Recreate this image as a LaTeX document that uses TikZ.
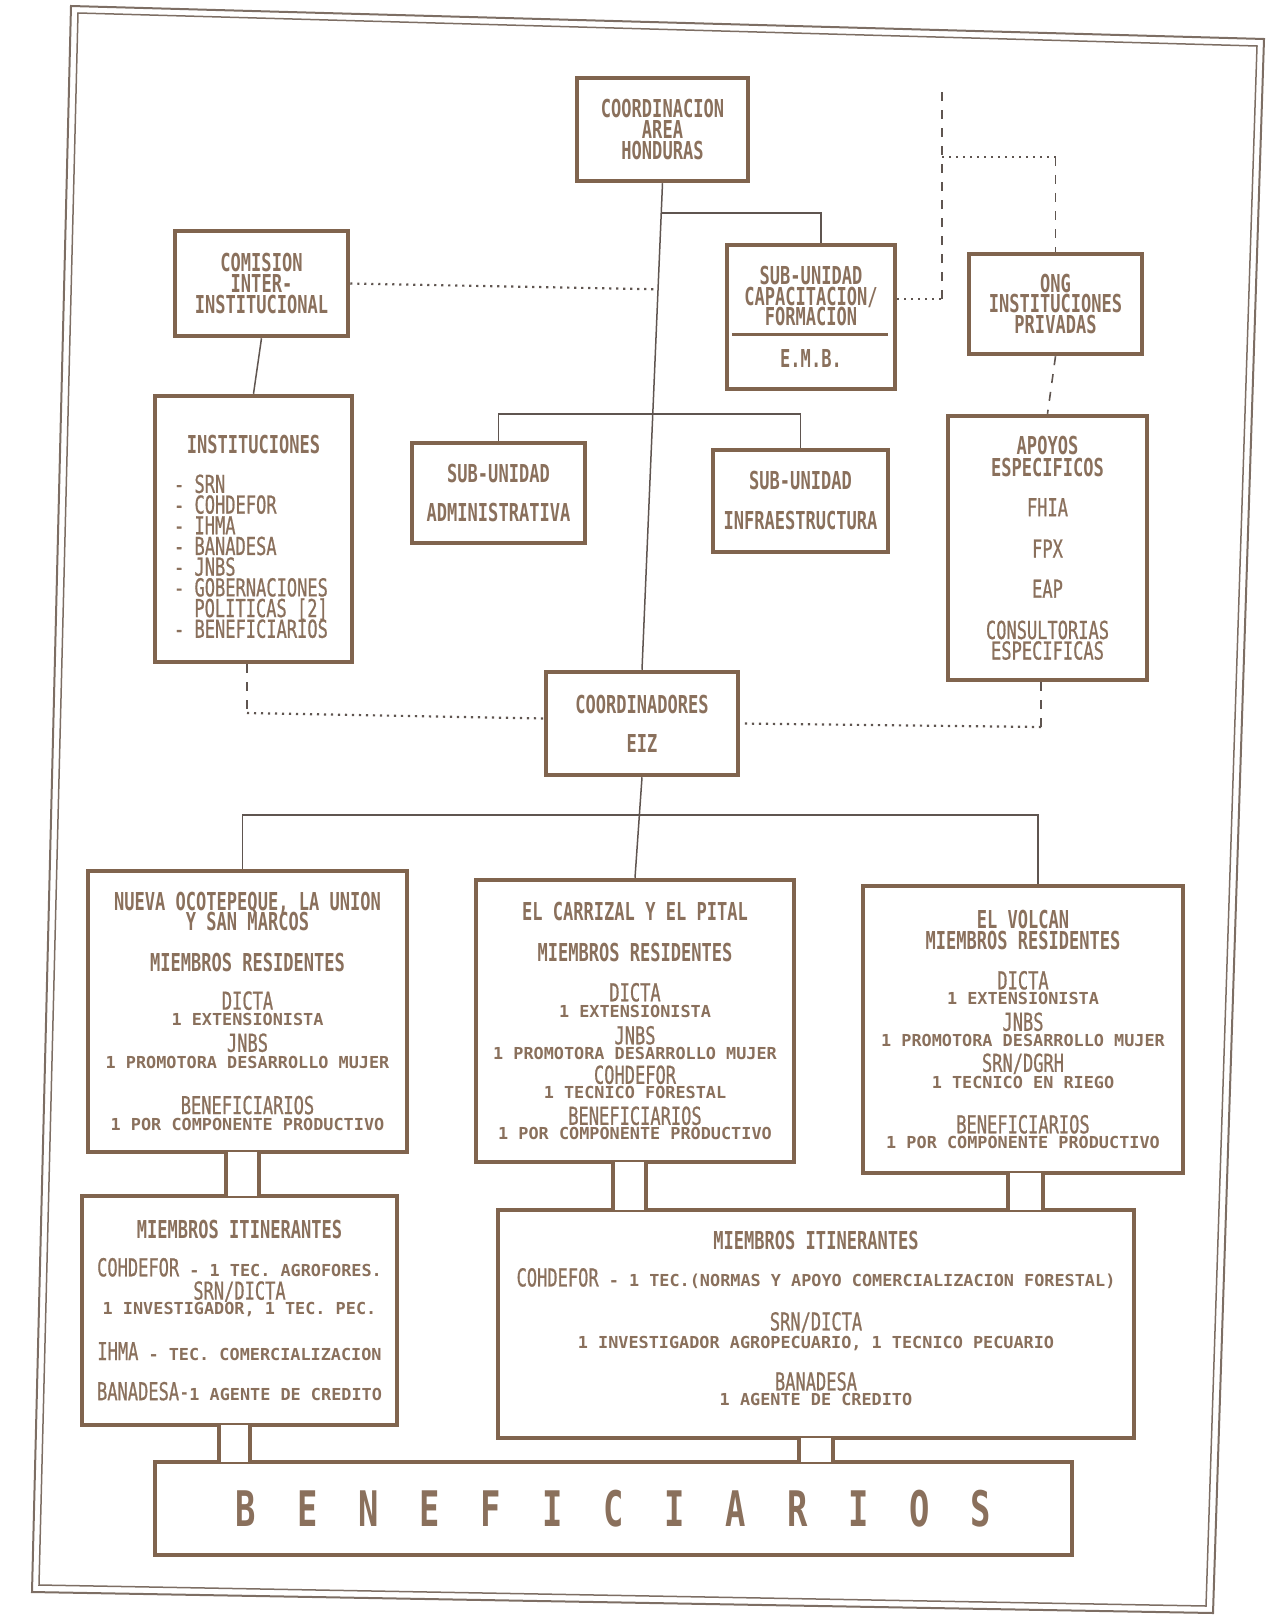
\documentclass[tikz,border=0pt]{standalone}
\usepackage{fontspec}
\usetikzlibrary{calc}
\newfontfamily\monoN{DejaVu Sans Mono}[FakeStretch=0.69]
\newfontfamily\monoM{DejaVu Sans Mono}[FakeStretch=0.69, FakeBold=0.7]
\newfontfamily\monoS{DejaVu Sans Mono}[FakeStretch=1.02]
\newcommand\fH{\monoN\bfseries\fontsize{24.7pt}{0pt}\selectfont}
\newcommand\fM{\monoM\mdseries\fontsize{24.7pt}{0pt}\selectfont}
\newcommand\fS{\monoS\bfseries\fontsize{16.5pt}{0pt}\selectfont}
\newcommand\fBig{\monoN\bfseries\fontsize{49pt}{0pt}\selectfont}
\newcommand\bl[1]{\makebox[61.25pt]{#1}}
\newcommand\li[1]{\makebox[159pt][l]{#1}}
\definecolor{brownT}{RGB}{138,112,92}
\definecolor{brownB}{RGB}{128,100,78}
\definecolor{lineC}{RGB}{95,85,80}
\definecolor{frameC}{RGB}{125,110,100}
\lineskiplimit=-1000pt
\newcommand\chan[4]{%
  \coordinate (cxa) at (#3,0);
  \coordinate (cxb) at (#4,0);
  \path (#1.south -| cxa) coordinate (cA) (#2.north -| cxb) coordinate (cB);
  \fill[white] ($(cA)+(2.25,-2.6)$) rectangle ($(cB)+(-2.25,2.6)$);
  \draw[boxline, line cap=rect] (cA) -- (cA |- cB) (cB |- cA) -- (cB);
}
\begin{document}
\begin{tikzpicture}[x=1pt,y=-1pt,
  boxline/.style={draw=brownB, line width=4.5pt},
  orgbox/.style={boxline, fill=white, inner sep=0pt, align=center, text=brownT, font=\fH},
  connln/.style={draw=lineC, line width=1.5pt},
  dotln/.style={draw=lineC, line width=2.2pt, dash pattern=on 2.2pt off 4.8pt},
  dashln/.style={draw=lineC, line width=1.6pt, dash pattern=on 9pt off 9pt},
  frameln/.style={draw=frameC, line width=2pt}]
\useasboundingbox (0,0) rectangle (1271,1616);
% frame
\draw[frameln] (71,6) -- (1264,39) -- (1213,1613) -- (32,1592) -- cycle;
\draw[frameln, line width=1.5pt] (78,13) -- (1257,46) -- (1206,1606) -- (39,1585) -- cycle;

% boxes
\node[orgbox, minimum width=171pt, minimum height=103pt] (b1) at (662.5,129.5)
  {\fH COORDINACION\\[20.6pt]\fH AREA\\[20.6pt]\fH HONDURAS};
\node[orgbox, minimum width=173pt, minimum height=105pt] (b2) at (261.5,283.5)
  {\fH COMISION\\[21pt]\fH INTER-\\[21pt]\fH INSTITUCIONAL};
\node[orgbox, minimum width=168pt, minimum height=144pt] (b3) at (811,317)
  {\fH SUB-UNIDAD\\[20.6pt]\fH CAPACITACION/\\[20.6pt]\fH FORMACION\\[42.3pt]\fH E.M.B.};
\node[orgbox, minimum width=173pt, minimum height=100pt] (b4) at (1055.5,304)
  {\fH ONG\\[20.6pt]\fH INSTITUCIONES\\[20.6pt]\fH PRIVADAS};
\node[orgbox, minimum width=197pt, minimum height=266pt] (b5) at (253.5,529)
  {\rule{0pt}{34pt}\fH INSTITUCIONES\\[39pt]
   \fM\li{- SRN}\\[20.7pt]
   \fM\li{- COHDEFOR}\\[20.7pt]
   \fM\li{- IHMA}\\[20.7pt]
   \fM\li{- BANADESA}\\[20.7pt]
   \fM\li{- JNBS}\\[20.7pt]
   \fM\li{- GOBERNACIONES}\\[20.7pt]
   \fM\li{\hspace*{20.4pt}POLITICAS [2]}\\[20.7pt]
   \fM\li{- BENEFICIARIOS}};
\node[orgbox, minimum width=173pt, minimum height=100pt] (b6) at (498.5,493)
  {\fH SUB-UNIDAD\\[39.3pt]\fH ADMINISTRATIVA};
\node[orgbox, minimum width=175pt, minimum height=102pt] (b7) at (800.5,501)
  {\fH SUB-UNIDAD\\[40pt]\fH INFRAESTRUCTURA};
\node[orgbox, minimum width=199pt, minimum height=264pt] (b8) at (1047.5,548)
  {\fH APOYOS\\[21.6pt]\fH ESPECIFICOS\\[40.2pt]\fM FHIA\\[41.3pt]\fM FPX\\[40.2pt]\fM EAP\\[41.2pt]\fM CONSULTORIAS\\[20.6pt]\fM ESPECIFICAS};
\node[orgbox, minimum width=192pt, minimum height=103pt] (b9) at (642,723.5)
  {\fH COORDINADORES\\[39pt]\fH EIZ};
\node[orgbox, minimum width=319pt, minimum height=281pt] (b10) at (247.5,1011.5)
  {\fH NUEVA OCOTEPEQUE, LA UNION\\[19.5pt]
   \fH Y SAN MARCOS\\[41pt]
   \fH MIEMBROS RESIDENTES\\[38.5pt]
   \fM DICTA\\[16.3pt]
   \fS 1 EXTENSIONISTA\\[25.8pt]
   \fM JNBS\\[16.8pt]
   \fS 1 PROMOTORA DESARROLLO MUJER\\[45.6pt]
   \fM BENEFICIARIOS\\[16.3pt]
   \fS 1 POR COMPONENTE PRODUCTIVO};
\node[orgbox, minimum width=318pt, minimum height=282pt] (b11) at (635,1021)
  {\fH EL CARRIZAL Y EL PITAL\\[41pt]
   \fH MIEMBROS RESIDENTES\\[40pt]
   \fM DICTA\\[16pt]
   \fS 1 EXTENSIONISTA\\[27pt]
   \fM JNBS\\[15pt]
   \fS 1 PROMOTORA DESARROLLO MUJER\\[24.5pt]
   \fM COHDEFOR\\[15pt]
   \fS 1 TECNICO FORESTAL\\[26pt]
   \fM BENEFICIARIOS\\[15pt]
   \fS 1 POR COMPONENTE PRODUCTIVO};
\node[orgbox, minimum width=320pt, minimum height=287pt] (b12) at (1023,1029.5)
  {\fH EL VOLCAN\\[21pt]
   \fH MIEMBROS RESIDENTES\\[40pt]
   \fM DICTA\\[15.5pt]
   \fS 1 EXTENSIONISTA\\[26pt]
   \fM JNBS\\[16pt]
   \fS 1 PROMOTORA DESARROLLO MUJER\\[25pt]
   \fM SRN/DGRH\\[16.5pt]
   \fS 1 TECNICO EN RIEGO\\[45pt]
   \fM BENEFICIARIOS\\[15.5pt]
   \fS 1 POR COMPONENTE PRODUCTIVO};
\node[orgbox, minimum width=315pt, minimum height=229pt] (b13) at (239.5,1310.5)
  {\fH MIEMBROS ITINERANTES\\[37.5pt]
   \fM COHDEFOR\fS\ - 1 TEC. AGROFORES.\\[23.3pt]
   \fM SRN/DICTA\\[14.8pt]
   \fS 1 INVESTIGADOR, 1 TEC. PEC.\\[45.7pt]
   \fM IHMA\fS\ - TEC. COMERCIALIZACION\\[40.1pt]
   \fM BANADESA-\fS 1 AGENTE DE CREDITO};
\node[orgbox, minimum width=636pt, minimum height=228pt] (b14) at (816,1324)
  {\fH MIEMBROS ITINERANTES\\[37pt]
   \fM COHDEFOR\fS\ - 1 TEC.(NORMAS Y APOYO COMERCIALIZACION FORESTAL)\\[44pt]
   \fM SRN/DICTA\\[18pt]
   \fS 1 INVESTIGADOR AGROPECUARIO, 1 TECNICO PECUARIO\\[42pt]
   \fM BANADESA\\[15.5pt]
   \fS 1 AGENTE DE CREDITO\rule[-11pt]{0pt}{11pt}};
\node[orgbox, minimum width=917pt, minimum height=93pt, font=\fBig] (b15) at (613.5,1508.5)
  {\fBig\bl{B}\bl{E}\bl{N}\bl{E}\bl{F}\bl{I}\bl{C}\bl{I}\bl{A}\bl{R}\bl{I}\bl{O}\bl{S}};

% divider in b3
\draw[boxline, line width=3pt] ($(b3.north west)+(7,92)$) -- ($(b3.north east)+(-9,92)$);

% channels joining the lower boxes
\chan{b10}{b13}{226}{259}
\chan{b11}{b14}{613}{646}
\chan{b12}{b14}{1008}{1043}
\chan{b13}{b15}{219}{250}
\chan{b14}{b15}{799}{833}

% solid connectors
\coordinate (j1) at ($(b1.south)!0.061!(b9.north)$);
\coordinate (j2) at ($(b1.south)!0.4745!(b9.north)$);
\coordinate (j3) at ($(b1.south)!0.218!(b9.north)$);
\draw[connln] (b1.south) -- (b9.north);
\draw[connln] (j1) -| ([xshift=10pt]b3.north);
\draw[connln] (b6.north) |- (j2) -| (b7.north);
\draw[connln] (b2.south) -- (b5.north);
\coordinate (jb) at (640,815);
\draw[connln] (b9.south) -- (b11.north);
\draw[connln] ([xshift=-5pt]b10.north) |- (jb) -| ([xshift=15pt]b12.north);

% dotted and dashed connectors
\draw[dotln] (b2.east) -- (j3);
\coordinate (k1) at (942,299);
\coordinate (k2) at (942,91);
\coordinate (k3) at (942,157);
\draw[dotln] ([yshift=18pt]b3.east) -- (k1);
\draw[dashln] (k1) -- (k2);
\draw[dotln] (k3) -- (k3 -| b4.north);
\draw[dashln] (k3 -| b4.north) -- (b4.north);
\draw[dashln] (b4.south) -- (b8.north);
\coordinate (m1) at (247,713);
\draw[dashln] ([xshift=-6.5pt]b5.south) -- (m1);
\draw[dotln] (m1) -- ([yshift=5pt]b9.west);
\coordinate (m2) at (1041,727);
\draw[dashln] ([xshift=-6.5pt]b8.south) -- (m2);
\draw[dotln] (m2) -- (b9.east);
\end{tikzpicture}
\end{document}
